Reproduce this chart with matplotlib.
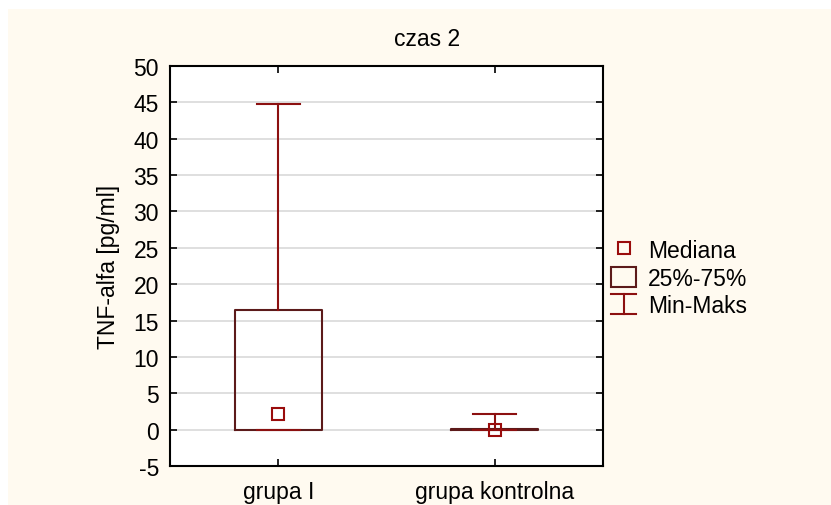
#!/usr/bin/env python
"""
Box plot of TNF-alfa at time point 2, grupa I vs grupa kontrolna.
"""

# Third party modules.
import matplotlib
matplotlib.use("Agg")
import matplotlib.pyplot as plt
from matplotlib.legend_handler import HandlerBase
from matplotlib.lines import Line2D
from matplotlib.patches import Patch, Rectangle

# Globals and constants variables.
groups = ["grupa I", "grupa kontrolna"]
minimum = [0.0, 0.0]
quartile25 = [0.0, 0.0]
median = [2.2, 0.0]
quartile75 = [16.4, 0.1]
maximum = [44.8, 2.2]

yTicks = [-5, 0, 5, 10, 15, 20, 25, 30, 35, 40, 45, 50]

boxColor = "#5c1a1a"
whiskerColor = "#8c1010"
medianColor = "#9a0c0c"
paperColor = "#fffaf0"

plt.rcParams["font.family"] = ["Liberation Sans", "DejaVu Sans"]
plt.rcParams["font.size"] = 16.5
plt.rcParams["axes.unicode_minus"] = False


class HandlerMinMax(HandlerBase):
    """Legend key drawn as an I: vertical bar with a cap at each end."""

    def create_artists(self, legend, orig_handle, xdescent, ydescent,
                       width, height, fontsize, trans):
        x0 = -xdescent
        x1 = x0 + width
        xm = 0.5 * (x0 + x1)
        y0 = -ydescent
        y1 = y0 + height
        props = dict(color=orig_handle.get_color(),
                     linewidth=orig_handle.get_linewidth(), transform=trans)
        return [Line2D([xm, xm], [y0, y1], **props),
                Line2D([x0, x1], [y0, y0], **props),
                Line2D([x0, x1], [y1, y1], **props)]


def run():
    fig = plt.figure(figsize=(8.31, 5.06), dpi=100, facecolor="white")
    fig.add_artist(Rectangle((8 / 831, 0), 1, 1 - 10 / 506, transform=fig.transFigure,
                             facecolor=paperColor, edgecolor="none", zorder=-10))

    ax = fig.add_axes([170 / 831, 39 / 506, 433 / 831, 400 / 506])
    ax.set_facecolor("white")

    stats = []
    for index, name in enumerate(groups):
        stats.append({"label": name,
                      "whislo": minimum[index], "q1": quartile25[index],
                      "med": median[index], "mean": median[index],
                      "q3": quartile75[index], "whishi": maximum[index],
                      "fliers": []})

    ax.bxp(stats, positions=range(len(groups)), widths=0.4, capwidths=0.2,
           showmeans=True, showfliers=False,
           boxprops=dict(color=boxColor, linewidth=1.5),
           whiskerprops=dict(color=whiskerColor, linewidth=1.5),
           capprops=dict(color=whiskerColor, linewidth=1.5),
           medianprops=dict(linewidth=0),
           meanprops=dict(marker="s", markersize=8.5, markerfacecolor="none",
                          markeredgecolor=medianColor, markeredgewidth=1.5))

    ax.set_xlim(-0.5, len(groups) - 0.5)
    ax.set_ylim(-5, 50)
    ax.set_yticks(yTicks)
    ax.set_xticks(range(len(groups)))
    ax.set_xticklabels(groups)
    ax.yaxis.grid(True, color="#d9d9d9", linewidth=1.2)
    ax.set_axisbelow(True)

    ax.tick_params(direction="in", length=5, width=1.2, color="black",
                   top=True, right=True)
    ax.tick_params(axis="y", pad=8)
    ax.tick_params(axis="x", pad=10)
    for spine in ax.spines.values():
        spine.set_linewidth(1.5)

    ax.set_ylabel("TNF-alfa [pg/ml]", labelpad=10)
    fig.text(427 / 831, 1 - 39 / 506, "czas 2", ha="center", va="center")

    medianHandle = Line2D([], [], linestyle="none", marker="s", markersize=8.5,
                          markerfacecolor="none", markeredgecolor=medianColor,
                          markeredgewidth=1.5)
    boxHandle = Patch(facecolor="none", edgecolor=boxColor, linewidth=1.5)
    rangeHandle = Line2D([], [], color=whiskerColor, linewidth=1.5)

    fig.legend([medianHandle, boxHandle, rangeHandle],
               ["Mediana", "25%-75%", "Min-Maks"],
               handler_map={rangeHandle: HandlerMinMax()},
               loc="center left", bbox_to_anchor=(611 / 831, 1 - 279 / 506),
               frameon=False, borderpad=0, borderaxespad=0,
               handlelength=1.1, handleheight=0.95, handletextpad=0.5,
               labelspacing=0.2, numpoints=1)

    fig.savefig("out.png", dpi=100, facecolor=fig.get_facecolor())


if __name__ == '__main__':
    run()
